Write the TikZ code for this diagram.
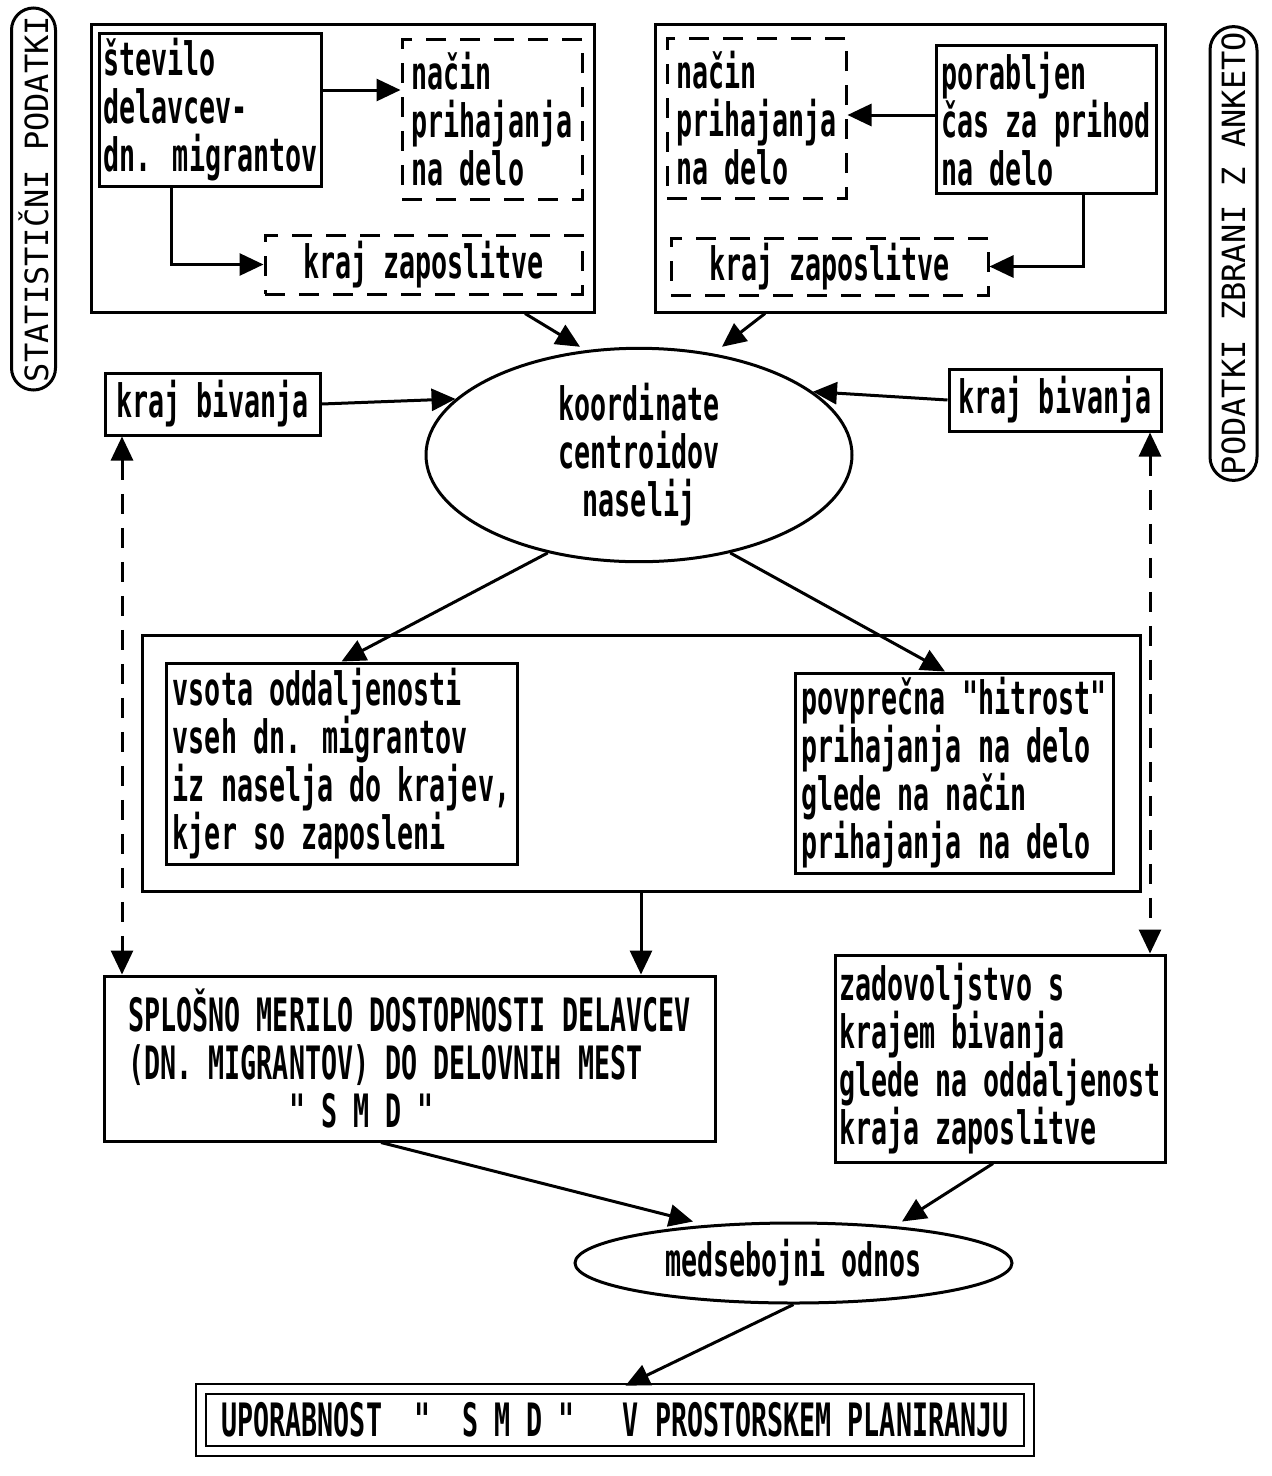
\documentclass[tikz,border=0pt]{standalone}
\usepackage{fontspec}
\usepackage{tikz}
\usetikzlibrary{arrows.meta,shapes.geometric,shapes.misc}
\newfontfamily\dotfont[FakeStretch=0.58,Ligatures=TeXOff]{DejaVu Sans Mono}
\newfontfamily\labfont[Ligatures=TeXOff]{DejaVu Sans Mono}

\begin{document}
\begin{tikzpicture}[x=1pt,y=-1pt,
  box/.style={draw, line width=3pt, inner sep=4pt, align=left, font=\dotfont\bfseries\fontsize{46}{48}\selectfont},
  dbox/.style={box, dash pattern=on 20pt off 14pt},
  oval/.style={box, ellipse, align=center},
  lab/.style={draw, line width=3pt, rounded rectangle, rotate=90, inner sep=2pt, font=\labfont\fontsize{32}{32}\selectfont},
  arr/.style={line width=3pt, -{Triangle[length=24pt,width=22pt]}},
  darr/.style={line width=3pt, {Triangle[length=24pt,width=22pt]}-{Triangle[length=24pt,width=22pt]}, dash pattern=on 20pt off 14pt}]

\fill[white] (0,0) rectangle (1272,1476);
\useasboundingbox (0,0) rectangle (1272,1476);

% side labels
\node[lab, minimum width=372, minimum height=44] (statlab) at (33.5,199) {STATISTIČNI PODATKI};
\node[lab, minimum width=443, minimum height=47] (anklab) at (1233.5,253.5) {PODATKI ZBRANI Z ANKETO};

% statistika
\node[box, minimum width=503, minimum height=288] (tlbox) at (342.5,168) {};
\node[box, minimum width=219, minimum height=153] (stevilo) at (210.5,110) {število\\delavcev-\\dn. migrantov};
\node[dbox, minimum width=180, minimum height=160] (nacinL) at (492,119) {način\\prihajanja\\na delo};
\node[dbox, minimum width=317, minimum height=59] (krajzapL) at (423.5,264.5) {kraj zaposlitve};

% anketa
\node[box, minimum width=510, minimum height=288] (trbox) at (910,168) {};
\node[dbox, minimum width=179, minimum height=160] (nacinR) at (756.5,118) {način\\prihajanja\\na delo};
\node[box, minimum width=220, minimum height=148] (porab) at (1046,119) {porabljen\\čas za prihod\\na delo};
\node[dbox, minimum width=317, minimum height=57] (krajzapR) at (829.5,266.5) {kraj zaposlitve};

\node[box, minimum width=215, minimum height=62] (krajbivL) at (212.5,404) {kraj bivanja};
\node[box, minimum width=212, minimum height=62] (krajbivR) at (1055,400) {kraj bivanja};
\node[oval, minimum width=426, minimum height=162] (koord) at (639,455) {koordinate\\centroidov\\naselij};

\node[box, minimum width=998, minimum height=256] (bigmid) at (641,763) {};
\node[box, minimum width=351, minimum height=201] (vsota) at (341.5,763.5) {vsota oddaljenosti\\vseh dn. migrantov\\iz naselja do krajev,\\kjer so zaposleni};
\node[box, minimum width=318, minimum height=200] (povpr) at (954,773) {povprečna "hitrost"\\prihajanja na delo\\glede na način\\prihajanja na delo};

\node[box, minimum width=611, minimum height=165] (smd) at (409.5,1058.5) {SPLOŠNO MERILO DOSTOPNOSTI DELAVCEV\\(DN. MIGRANTOV) DO DELOVNIH MEST\\\hspace*{161pt}" S M D "};
\node[box, minimum width=330, minimum height=207] (zadov) at (1000,1058.5) {zadovoljstvo s\\krajem bivanja\\glede na oddaljenost\\kraja zaposlitve};

\node[oval, minimum width=437, minimum height=80] (medseb) at (793.5,1263) {medsebojni odnos};
\node[box, double, line width=2.5pt, double distance=7.5pt, minimum width=828, minimum height=62, align=center] (uporab) at (615,1420) {UPORABNOST~~"~~S~M~D~"~~~V PROSTORSKEM PLANIRANJU};

% puscice
\draw[arr] (stevilo.east |- 0,90) -- (nacinL.west |- 0,90);
\draw[arr] (stevilo.south -| 171,0) |- (krajzapL.west);
\draw[arr] (porab.west |- 0,115) -- (nacinR.east |- 0,115);
\draw[arr] (porab.south -| 1083,0) |- (krajzapR.east);
\draw[arr] (tlbox.south -| 525,0) -- (koord.north -| 580,0);
\draw[arr] (trbox.south -| 765,0) -- (koord.north -| 722,0);
\draw[arr] (krajbivL.east) -- (koord.163);
\draw[arr] (krajbivR.west) -- (koord.20);
\draw[arr] (koord.227) -- (vsota.north);
\draw[arr] (koord.313) -- (povpr.north -| 945,0);
\draw[darr] (krajbivL.south -| 122,0) -- (smd.north -| 122,0);
\draw[darr] (krajbivR.south -| 1150,0) -- (zadov.north -| 1150,0);
\draw[arr] (bigmid.south) -- (smd.north -| bigmid.south);
\draw[arr] (smd.south -| 381,0) -- (medseb.north -| 693,0);
\draw[arr] (zadov.south -| 993,0) -- (medseb.north -| 902,0);
\draw[arr, shorten >=5pt] (medseb.south) -- (uporab.north -| 621,0);
\end{tikzpicture}
\end{document}
